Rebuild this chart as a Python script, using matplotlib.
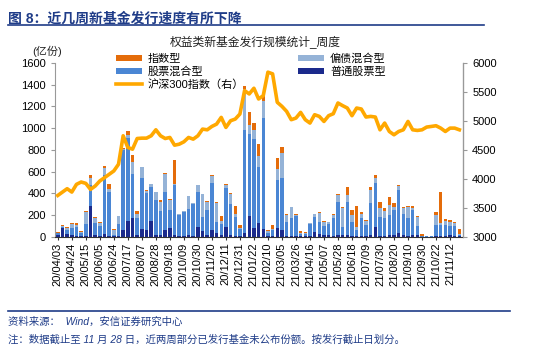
import numpy as np
import pandas as pd
import matplotlib
matplotlib.use("Agg")
import matplotlib.pyplot as plt

plt.rcParams["font.family"] = ["Liberation Sans", "Noto Sans CJK SC", "DejaVu Sans"]

# weekly dates (week-end trading day), 87 weeks
dates = pd.date_range("2020-04-03", periods=87, freq="7D")
tick_labels = ["20/04/03", "20/04/24", "20/05/15", "20/06/05", "20/06/24", "20/07/17",
               "20/08/07", "20/08/28", "20/09/18", "20/10/09", "20/10/30", "20/11/20",
               "20/12/11", "20/12/31", "21/01/22", "21/02/10", "21/03/05", "21/03/26",
               "21/04/16", "21/05/07", "21/05/28", "21/06/18", "21/07/09", "21/07/30",
               "21/08/20", "21/09/10", "21/09/30", "21/10/22", "21/11/12"]

# cumulative stack levels (亿份)
lvl_stock = [15, 80, 30, 20, 10, 10, 10, 280, 20, 10, 25, 10, 5, 10, 60, 150, 170, 20, 75, 65,
             145, 20, 20, 60, 80, 15, 10, 5, 20, 10, 90, 50, 20, 60, 40, 20, 90, 20, 10, 5,
             40, 190, 80, 130, 75, 5, 10, 80, 60, 10, 10, 10, 5, 5, 10, 45, 30, 15, 15, 10,
             15, 20, 20, 10, 10, 10, 10, 20, 95, 10, 10, 20, 15, 35, 15, 10, 20, 15, 0, 0,
             0, 5, 10, 10, 15, 10, 10]
lvl_mixed = [35, 95, 65, 80, 95, 35, 120, 480, 130, 100, 570, 410, 20, 120, 800, 910, 580, 170, 540, 400,
             460, 340, 240, 410, 250, 480, 205, 230, 260, 300, 410, 180, 250, 500, 140, 120, 450, 300, 180, 70,
             985, 950, 900, 640, 1090, 40, 60, 525, 540, 140, 170, 190, 30, 30, 120, 180, 140, 100, 120, 170,
             323, 90, 323, 140, 60, 170, 110, 310, 493, 180, 170, 200, 250, 431, 210, 170, 250, 100, 5, 4,
             4, 108, 108, 110, 100, 100, 20]
lvl_bond = [40, 100, 85, 115, 110, 45, 225, 540, 175, 130, 635, 445, 60, 190, 810, 935, 690, 215, 640, 420,
            485, 415, 320, 575, 340, 490, 210, 240, 375, 310, 475, 390, 320, 560, 310, 145, 478, 390, 210, 85,
            1360, 1030, 980, 745, 1245, 55, 70, 625, 770, 200, 275, 205, 40, 38, 128, 210, 220, 140, 135, 200,
            385, 265, 385, 200, 95, 210, 145, 430, 539, 262, 237, 293, 277, 465, 265, 275, 270, 180, 10, 6,
            6, 200, 129, 150, 140, 125, 30]
lvl_index = [45, 110, 95, 130, 125, 50, 240, 570, 185, 140, 650, 490, 70, 195, 820, 975, 750, 235, 645, 435,
             490, 415, 335, 590, 345, 705, 210, 240, 380, 310, 480, 395, 330, 570, 325, 195, 485, 405, 280, 105,
             1385, 1150, 1050, 850, 1300, 60, 110, 725, 830, 210, 277, 215, 55, 46, 130, 215, 231, 148, 139, 215,
             391, 277, 462, 246, 286, 225, 160, 462, 570, 317, 268, 370, 308, 477, 277, 286, 283, 191, 31, 8,
             8, 231, 410, 163, 154, 139, 74]

hs300 = [3715, 3773, 3831, 3773, 3906, 3946, 3923, 3819, 3877, 3964, 4021, 4079, 4137, 4252, 4743,
         4541, 4512, 4696, 4702, 4702, 4743, 4846, 4743, 4696, 4714, 4581, 4598, 4639, 4714, 4685,
         4743, 4858, 4846, 4904, 4944, 5060, 4887, 5002, 5031, 5118, 5521, 5464, 5562, 5377, 5435,
         5839, 5810, 5320, 5250, 5164, 5020, 5048, 5146, 5020, 4962, 5106, 5077, 4990, 5089, 5123,
         5308, 5262, 5221, 5089, 5221, 5204, 5066, 5077, 5066, 4846, 4962, 4817, 4760, 4817, 4846,
         4990, 4846, 4835, 4846, 4893, 4904, 4916, 4875, 4817, 4875, 4875, 4846]

stock = np.array(lvl_stock, float)
mixed = np.array(lvl_mixed, float) - stock
bond = np.array(lvl_bond, float) - np.array(lvl_mixed, float)
index = np.array(lvl_index, float) - np.array(lvl_bond, float)

C_IDX, C_MIX, C_BOND, C_STK, C_LINE = "#E46C0A", "#4A86D4", "#95B3D7", "#1B2A8C", "#FFA800"
BLUE_TXT = "#1F3C88"

fig = plt.figure(figsize=(5.5, 3.51), dpi=100)
ax = fig.add_axes([0.1, 0.325, 0.742, 0.496])
x = np.arange(len(dates))
w = 0.74
ax.bar(x, stock, w, color=C_STK, label="普通股票型", zorder=2)
ax.bar(x, mixed, w, bottom=stock, color=C_MIX, label="股票混合型", zorder=2)
ax.bar(x, bond, w, bottom=stock + mixed, color=C_BOND, label="偏债混合型", zorder=2)
ax.bar(x, index, w, bottom=stock + mixed + bond, color=C_IDX, label="指数型", zorder=2)
ax.set_ylim(0, 1600)
ax.set_yticks(range(0, 1601, 200))
ax.set_xlim(-0.6, len(x) - 0.2)
ax.set_xticks(x[::3])
ax.set_xticklabels(tick_labels, rotation=90, fontsize=8)

ax2 = ax.twinx()
ax2.plot(x, hs300, color=C_LINE, lw=2.6, label="沪深300指数（右）", zorder=3)
ax2.set_ylim(3000, 6000)
ax2.set_yticks(range(3000, 6001, 500))

for a in (ax, ax2):
    a.spines["top"].set_visible(False)
    a.tick_params(labelsize=8, length=3, color="#999999")
ax.spines["left"].set_color("#999999")
ax2.spines["right"].set_color("#999999")
ax2.spines["left"].set_visible(False)
ax.spines["bottom"].set_color("#333333")
ax2.spines["bottom"].set_visible(False)
ax.tick_params(axis="x", length=2, color="#333333", pad=2)

h, l = ax.get_legend_handles_labels()
h2, l2 = ax2.get_legend_handles_labels()
hd = dict(zip(l + l2, h + h2))
order = ["指数型", "股票混合型", "沪深300指数（右）", "偏债混合型", "普通股票型"]
ax2.legend([hd[k] for k in order], order, ncol=2, loc="upper left", bbox_to_anchor=(0.13, 1.1),
           frameon=False, fontsize=8, handlelength=2.4, handleheight=0.55, labelspacing=0.22,
           columnspacing=4.8, borderpad=0.2, handletextpad=0.5)

fig.text(0.015, 0.948, "图 8：近几周新基金发行速度有所下降", fontsize=10, fontweight="bold",
         color=BLUE_TXT, va="center")
fig.add_artist(plt.Line2D([0.015, 0.88], [0.93, 0.93], color=BLUE_TXT, lw=1.2))
fig.text(0.465, 0.88, "权益类新基金发行规模统计_周度", fontsize=8.5, ha="center", va="center", color="#222222")
fig.text(0.058, 0.853, "(亿份)", fontsize=8, va="center", color="#222222")
fig.add_artist(plt.Line2D([0.015, 0.928], [0.114, 0.114], color=BLUE_TXT, lw=1.2))
fig.text(0.015, 0.083, "资料来源：  Wind，安信证券研究中心", fontsize=7.5, color=BLUE_TXT,
         style="italic", va="center")
fig.text(0.015, 0.032, "注：数据截止至 11 月 28 日，近两周部分已发行基金未公布份额。按发行截止日划分。",
         fontsize=7.5, color=BLUE_TXT, style="italic", va="center")

fig.savefig("out.png", dpi=100)
